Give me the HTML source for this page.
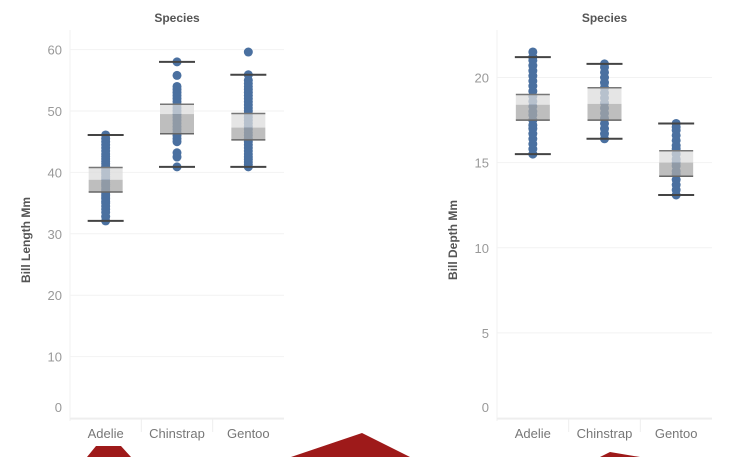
<!DOCTYPE html>
<html><head><meta charset="utf-8"><style>
body{margin:0;background:#fff;}
svg{display:block;font-family:"Liberation Sans",sans-serif;}
</style></head><body>
<svg id="c" width="732" height="457"></svg>
<script>
const species=["Adelie","Chinstrap","Gentoo"];
const lenTicks=[0,10,20,30,40,50,60];
const depTicks=[0,5,10,15,20];
const lenBox=[[32.1,36.8,38.8,40.8,46.1],[40.9,46.3,49.5,51.1,58.0],[40.9,45.3,47.3,49.6,55.9]];
const depBox=[[15.5,17.5,18.4,19.0,21.2],[16.4,17.5,18.45,19.4,20.8],[13.1,14.2,15.0,15.7,17.3]];
const lenPts=[[32.1,32.8,33.5,34,34.5,35,35.3,35.7,36,36.3,36.7,37,37.3,37.7,38,38.3,38.7,39,39.3,39.7,40,40.3,40.7,41,41.4,41.8,42.2,42.6,43,43.5,44,44.5,45,45.5,46.1],
[40.9,42.5,43.2,45,45.5,46,46.5,47,47.5,48,48.5,49,49.5,50,50.5,51,51.5,52,52.5,53,53.5,54,55.8,58],
[40.9,41.3,41.7,42.1,42.5,43,43.5,44,44.5,45,45.5,46,46.5,47,47.5,48,48.5,49,49.5,50,50.5,51,51.5,52,52.5,53,53.5,54,54.5,55,55.9,59.6]];
const depPts=[[15.5,15.8,16.1,16.4,16.7,17,17.2,17.5,17.8,18,18.3,18.6,18.9,19.2,19.5,19.8,20.1,20.4,20.7,21,21.2,21.5],
[16.4,16.7,17,17.3,17.6,17.9,18.2,18.5,18.8,19.1,19.4,19.7,20,20.3,20.6,20.8],
[13.1,13.4,13.7,14,14.3,14.5,14.8,15,15.2,15.5,15.8,16,16.3,16.6,16.9,17.1,17.3]];
const NS="http://www.w3.org/2000/svg";
const svg=document.getElementById('c');
function mk(t,a,p){const e=document.createElementNS(NS,t);for(const k in a)e.setAttribute(k,a[k]);(p||svg).appendChild(e);return e;}
function panel(cfg){
  const g=mk('g',{});
  
  
  const y=v=>cfg.y0+(v)*(cfg.y1-cfg.y0)/cfg.max;
  const bw=(cfg.x1-cfg.x0)/3;
  const cx=i=>cfg.x0+bw*(i+0.5);
  cfg.ticks.forEach(t=>{
    const l=mk('line',{x1:cfg.x0,x2:cfg.x1,y1:y(t),y2:y(t),stroke:'#f2f2f2'},g);
    
    const tx=mk('text',{x:cfg.x0-8,y:Math.min(y(t)+5,412),'text-anchor':'end','font-size':13,fill:'#999'},g);
    tx.textContent=t;
    
  });
  mk('line',{x1:cfg.x0,x2:cfg.x0,y1:30,y2:cfg.y0+3,stroke:'#f2f2f2'},g);
  mk('line',{x1:cfg.x0,x2:cfg.x1,y1:cfg.y0+1,y2:cfg.y0+1,stroke:'#ebebeb'},g);
  for(let i=1;i<3;i++)mk('line',{x1:cfg.x0+bw*i,x2:cfg.x0+bw*i,y1:cfg.y0,y2:cfg.y0+14,stroke:'#eee'},g);
  const ti=mk('text',{x:(cfg.x0+cfg.x1)/2,y:22,'text-anchor':'middle','font-size':12,'font-weight':'bold',fill:'#555'},g);
  ti.textContent='Species';
  const at=mk('text',{x:0,y:0,transform:`translate(${cfg.x0-40},${cfg.titleY}) rotate(-90)`,'text-anchor':'middle','font-size':12,'font-weight':'bold',fill:'#555'},g);
  at.textContent=cfg.title;
  species.forEach((s,i)=>{
    const c=cx(i),b=cfg.box[i];
    const lb=mk('text',{x:c,y:438,'text-anchor':'middle','font-size':13,fill:'#777'},g);
    lb.textContent=s;
    cfg.pts[i].forEach(v=>{
      const d=mk('circle',{cx:c,cy:y(v),r:4.5,fill:'#4a70a0'},g);
      
    });
    const bx=mk('g',{},g);
    
    mk('rect',{x:c-17,y:y(b[3]),width:34,height:y(b[2])-y(b[3]),fill:'#dcdcdc','fill-opacity':0.75},bx);
    mk('rect',{x:c-17,y:y(b[2]),width:34,height:y(b[1])-y(b[2]),fill:'#a8a8a8','fill-opacity':0.75},bx);
    mk('line',{x1:c-17,x2:c+17,y1:y(b[3]),y2:y(b[3]),stroke:'#777','stroke-width':1.5},bx);
    mk('line',{x1:c-17,x2:c+17,y1:y(b[1]),y2:y(b[1]),stroke:'#666','stroke-width':1.5},bx);
    mk('line',{x1:c-18,x2:c+18,y1:y(b[0]),y2:y(b[0]),stroke:'#444','stroke-width':2},g);
    mk('line',{x1:c-18,x2:c+18,y1:y(b[4]),y2:y(b[4]),stroke:'#444','stroke-width':2},g);
  });
}
panel({name:'bill-length-chart',x0:70,x1:284,y0:418,y1:49.6,max:60,ticks:lenTicks,box:lenBox,pts:lenPts,title:'Bill Length Mm',titleY:240});
panel({name:'bill-depth-chart',x0:497,x1:712,y0:418,y1:77.5,max:20,ticks:depTicks,box:depBox,pts:depPts,title:'Bill Depth Mm',titleY:240});
const deco=mk('g',{fill:'#9e1a1a'});

mk('polygon',{points:'96,446 121,446 131,457 87,457'},deco);
mk('polygon',{points:'362,433 410,457 291,457'},deco);
mk('polygon',{points:'610,452 640,457 600,457'},deco);
</script>
</body></html>
